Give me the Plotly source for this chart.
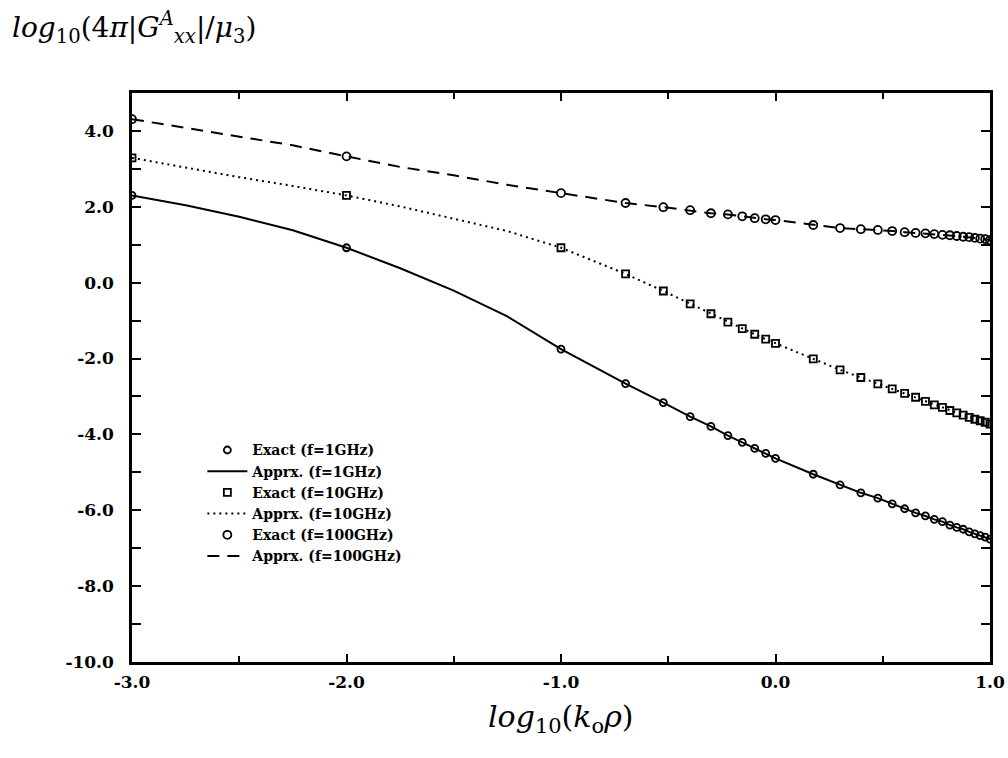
import plotly.graph_objects as go

# k0*rho values at which the exact solution is plotted (x axis is log10 of these)
k_exact = [0.001, 0.01, 0.1, 0.2, 0.3, 0.4, 0.5, 0.6, 0.7, 0.8, 0.9, 1.0,
           1.5, 2.0, 2.5, 3.0, 3.5, 4.0, 4.5, 5.0, 5.5, 6.0, 6.5, 7.0, 7.5,
           8.0, 8.5, 9.0, 9.5, 10.0]

exact_1ghz = [2.30, 0.92, -1.75, -2.66, -3.16, -3.53, -3.79, -4.03, -4.21, -4.37,
              -4.50, -4.63, -5.05, -5.33, -5.54, -5.68, -5.83, -5.96, -6.07, -6.15,
              -6.24, -6.30, -6.39, -6.45, -6.50, -6.57, -6.62, -6.67, -6.71, -6.76]
exact_10ghz = [3.29, 2.30, 0.92, 0.23, -0.22, -0.56, -0.82, -1.04, -1.21, -1.36,
               -1.49, -1.60, -2.01, -2.30, -2.50, -2.67, -2.80, -2.92, -3.02, -3.13,
               -3.22, -3.29, -3.37, -3.43, -3.49, -3.55, -3.60, -3.64, -3.68, -3.73]
exact_100ghz = [4.31, 3.33, 2.36, 2.10, 1.99, 1.91, 1.83, 1.80, 1.75, 1.70,
                1.67, 1.65, 1.52, 1.44, 1.41, 1.39, 1.36, 1.33, 1.31, 1.30,
                1.28, 1.26, 1.25, 1.23, 1.21, 1.20, 1.18, 1.16, 1.15, 1.12]

# approximation curves
k_apprx = [0.001, 0.00178, 0.00316, 0.00562, 0.01, 0.0178, 0.0316, 0.0562, 0.1,
           0.2, 0.3, 0.4, 0.5, 0.6, 0.7, 0.8, 0.9, 1.0,
           1.5, 2.0, 2.5, 3.0, 3.5, 4.0, 4.5, 5.0, 5.5, 6.0, 6.5, 7.0, 7.5,
           8.0, 8.5, 9.0, 9.5, 10.0]
apprx_1ghz = [2.30, 2.04, 1.74, 1.38, 0.92, 0.38, -0.21, -0.89, -1.75,
              -2.66, -3.16, -3.53, -3.79, -4.03, -4.21, -4.37, -4.50, -4.63,
              -5.05, -5.33, -5.54, -5.68, -5.83, -5.96, -6.07, -6.15, -6.24, -6.30,
              -6.39, -6.45, -6.50, -6.57, -6.62, -6.67, -6.71, -6.76]
apprx_10ghz = [3.29, 3.03, 2.78, 2.55, 2.30, 2.01, 1.69, 1.36, 0.92,
               0.23, -0.22, -0.56, -0.82, -1.04, -1.21, -1.36, -1.49, -1.60,
               -2.01, -2.30, -2.50, -2.67, -2.80, -2.92, -3.02, -3.13, -3.22, -3.29,
               -3.37, -3.43, -3.49, -3.55, -3.60, -3.64, -3.68, -3.73]
apprx_100ghz = [4.31, 4.08, 3.85, 3.62, 3.33, 3.05, 2.83, 2.58, 2.36,
                2.10, 1.99, 1.91, 1.83, 1.80, 1.75, 1.70, 1.67, 1.65,
                1.52, 1.44, 1.41, 1.39, 1.36, 1.33, 1.31, 1.30, 1.28, 1.26,
                1.25, 1.23, 1.21, 1.20, 1.18, 1.16, 1.15, 1.12]

x_tickvals = [0.001, 0.01, 0.1, 1.0, 10.0]
x_ticktext = ["-3.0", "-2.0", "-1.0", "0.0", "1.0"]
x_minorvals = [0.00316, 0.0316, 0.316, 3.16]
y_tickvals = [-10, -8, -6, -4, -2, 0, 2, 4]
y_ticktext = ["-10.0", "-8.0", "-6.0", "-4.0", "-2.0", "0.0", "2.0", "4.0"]
y_minorvals = [-9, -7, -5, -3, -1, 1, 3]

FONT = "DejaVu Serif"
fig = go.Figure()

mk = dict(color="black", width=1.8)
fig.add_trace(go.Scatter(x=k_exact, y=exact_1ghz, mode="markers",
                         name="Exact (f=1GHz)",
                         marker=dict(symbol="circle-open", size=7, color="black", line=mk)))
fig.add_trace(go.Scatter(x=k_apprx, y=apprx_1ghz, mode="lines",
                         name="Apprx. (f=1GHz)",
                         line=dict(color="black", width=2, dash="solid")))
fig.add_trace(go.Scatter(x=k_exact, y=exact_10ghz, mode="markers",
                         name="Exact (f=10GHz)",
                         marker=dict(symbol="square-open", size=7, color="black", line=mk)))
fig.add_trace(go.Scatter(x=k_apprx, y=apprx_10ghz, mode="lines",
                         name="Apprx. (f=10GHz)",
                         line=dict(color="black", width=2, dash="2px,4px")))
fig.add_trace(go.Scatter(x=k_exact, y=exact_100ghz, mode="markers",
                         name="Exact (f=100GHz)",
                         marker=dict(symbol="circle-open", size=8, color="black", line=mk)))
fig.add_trace(go.Scatter(x=k_apprx, y=apprx_100ghz, mode="lines",
                         name="Apprx. (f=100GHz)",
                         line=dict(color="black", width=2, dash="12px,8px")))

fig.update_layout(
    width=1008, height=758,
    margin=dict(l=132, r=18, t=93, b=96, autoexpand=False),
    paper_bgcolor="white", plot_bgcolor="white",
    font=dict(family=FONT, color="black"),
    showlegend=True,
    legend=dict(x=0.082, y=0.40, xanchor="left", yanchor="top",
                bgcolor="rgba(0,0,0,0)",
                font=dict(family=FONT, size=14, color="black", weight="bold"),
                itemwidth=40, tracegroupgap=0),
    xaxis=dict(type="log", range=[-3, 1], showgrid=False, zeroline=False, automargin=False,
               showline=True, linecolor="black", linewidth=2.5, mirror="ticks",
               ticks="inside", ticklen=8, tickwidth=2, tickcolor="black",
               tickvals=x_tickvals, ticktext=x_ticktext,
               tickfont=dict(family=FONT, size=17, color="black", weight="bold"),
               minor=dict(tickvals=x_minorvals, ticks="inside", ticklen=6, tickwidth=2, tickcolor="black"),
               ticklabelstandoff=3),
    yaxis=dict(range=[-10, 5], showgrid=False, zeroline=False, automargin=False,
               showline=True, linecolor="black", linewidth=2.5, mirror="ticks",
               ticks="inside", ticklen=9, tickwidth=2, tickcolor="black",
               tickvals=y_tickvals, ticktext=y_ticktext,
               tickfont=dict(family=FONT, size=17, color="black", weight="bold"),
               minor=dict(tickvals=y_minorvals, ticks="inside", ticklen=9, tickwidth=2, tickcolor="black"),
               ticklabelstandoff=12),
)

fig.add_annotation(xref="paper", yref="paper", x=-0.142, y=1.115, xanchor="left", yanchor="middle",
                   showarrow=False,
                   text="<i>log</i><sub>10</sub>(4<i>π</i>|<i>G</i><sup><i>A</i></sup><sub><i>xx</i></sub>|/<i>μ</i><sub>3</sub>)",
                   font=dict(family="DejaVu Serif", size=28, color="black"))
fig.add_annotation(xref="paper", yref="paper", x=0.5, y=-0.062, xanchor="center", yanchor="top",
                   showarrow=False,
                   text="<i>log</i><sub>10</sub>(<i>k</i><sub>o</sub><i>ρ</i>)",
                   font=dict(family="DejaVu Serif", size=30, color="black"))

fig.write_html("out.html")
